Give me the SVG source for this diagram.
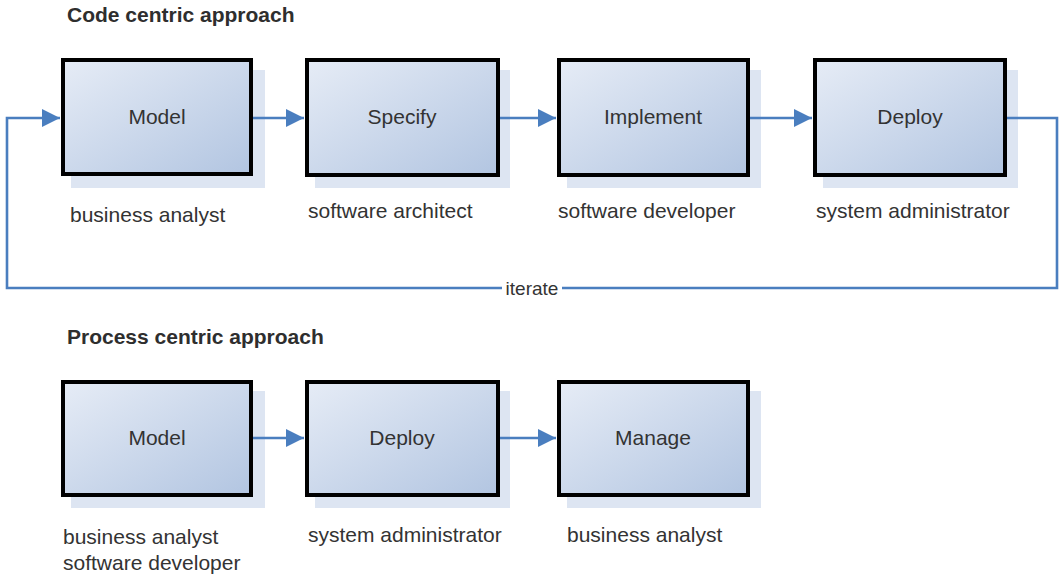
<svg xmlns="http://www.w3.org/2000/svg" width="1062" height="575" viewBox="0 0 1062 575">
<style>
.title{font-family:"Liberation Sans",Arial,sans-serif;font-size:21px;font-weight:bold;fill:#2e2e2e}
.lbl{font-family:"Liberation Sans",Arial,sans-serif;font-size:21px;fill:#333}
.box{fill:url(#g);stroke:#000;stroke-width:4}
.shadow{fill:#dde5f2}
.conn{fill:none;stroke:#4a7ebf;stroke-width:2.6}
.boxtext{font-family:"Liberation Sans",Arial,sans-serif;font-size:21px;fill:#333;text-anchor:middle}
</style>
<defs>
<linearGradient id="g" x1="0" y1="0" x2="1" y2="1">
<stop offset="0" stop-color="#e6ecf6"/>
<stop offset="1" stop-color="#b2c5e1"/>
</linearGradient>
<marker id="ah" markerWidth="7" markerHeight="7" refX="7" refY="3.5" orient="auto" markerUnits="strokeWidth">
<path d="M0,0 L7,3.5 L0,7 z" fill="#4a7ebf"/>
</marker>
</defs>
<rect width="1062" height="575" fill="#fff"/>
<text class="title" x="67" y="22">Code centric approach</text>
<text class="title" x="67" y="344">Process centric approach</text>

<g id="code-model">
<rect class="shadow" x="71" y="70" width="194" height="118"/>
<rect class="box" x="63" y="60" width="188" height="114"/>
<text class="boxtext" x="157" y="124">Model</text>
<text class="lbl" x="70" y="222">business analyst</text>
</g>
<g id="code-specify">
<rect class="shadow" x="315" y="70" width="195" height="118"/>
<rect class="box" x="307" y="60" width="191" height="115"/>
<text class="boxtext" x="402" y="124">Specify</text>
<text class="lbl" x="308" y="218">software architect</text>
</g>
<g id="code-implement">
<rect class="shadow" x="567" y="70" width="194" height="118"/>
<rect class="box" x="559" y="60" width="189" height="115"/>
<text class="boxtext" x="653" y="124">Implement</text>
<text class="lbl" x="558" y="218">software developer</text>
</g>
<g id="code-deploy">
<rect class="shadow" x="823" y="70" width="195" height="118"/>
<rect class="box" x="815" y="60" width="190" height="115"/>
<text class="boxtext" x="910" y="124">Deploy</text>
<text class="lbl" x="816" y="218">system administrator</text>
</g>

<g id="proc-model">
<rect class="shadow" x="71" y="391" width="194" height="117"/>
<rect class="box" x="63" y="382" width="188" height="113"/>
<text class="boxtext" x="157" y="445">Model</text>
<text class="lbl" x="63" y="544">business analyst</text>
<text class="lbl" x="63" y="570">software developer</text>
</g>
<g id="proc-deploy">
<rect class="shadow" x="315" y="391" width="195" height="117"/>
<rect class="box" x="307" y="382" width="191" height="113"/>
<text class="boxtext" x="402" y="445">Deploy</text>
<text class="lbl" x="308" y="542">system administrator</text>
</g>
<g id="proc-manage">
<rect class="shadow" x="567" y="391" width="194" height="117"/>
<rect class="box" x="559" y="382" width="189" height="113"/>
<text class="boxtext" x="653" y="445">Manage</text>
<text class="lbl" x="567" y="542">business analyst</text>
</g>

<g id="connectors">
<path class="conn" d="M253,118 H304" marker-end="url(#ah)"/>
<path class="conn" d="M500,118 H556" marker-end="url(#ah)"/>
<path class="conn" d="M750,118 H812" marker-end="url(#ah)"/>
<path class="conn" d="M1007,118 H1057 V288 H7 V118 H60" marker-end="url(#ah)"/>
<rect x="502" y="278" width="60" height="20" fill="#fff"/>
<text class="lbl" x="532" y="295" text-anchor="middle" style="font-size:19px">iterate</text>
<path class="conn" d="M253,438 H304" marker-end="url(#ah)"/>
<path class="conn" d="M500,438 H556" marker-end="url(#ah)"/>
</g>
</svg>
